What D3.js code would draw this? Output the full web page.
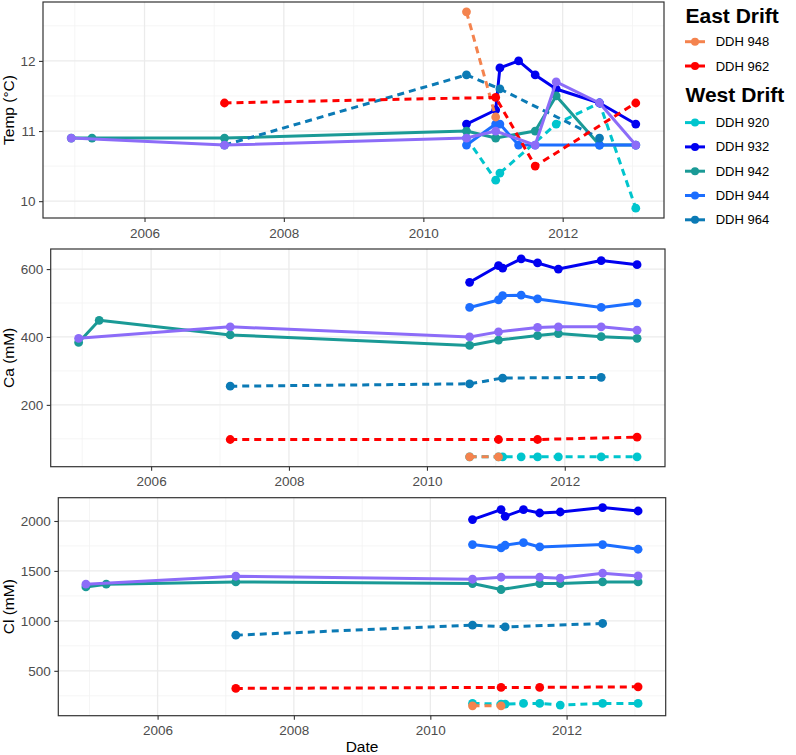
<!DOCTYPE html>
<html>
<head>
<meta charset="utf-8">
<script src="https://cdn.jsdelivr.net/npm/d3@7"></script>
<style>
  body { margin: 0; background: #fff; }
  svg { font-family: "Liberation Sans", Arial, sans-serif; }
</style>
</head>
<body>
<div id="wrapper"></div>
<script>
// sampling dates
const d0 = "2004-12-13", d1 = "2005-04-01", d2 = "2007-02-24", d3_ = "2010-08-15",
  d4 = "2011-01-15", d5 = "2011-02-06", d6 = "2011-05-15", d7 = "2011-08-10",
  d8 = "2011-11-28", d9 = "2012-07-12", d10 = "2013-01-18";

// Temperature (°C)
const temp948 = [[d3_, 12.7], [d4, 11.2]];
const temp962 = [[d2, 11.4], [d4, 11.48], [d7, 10.5], [d10, 11.4]];
const temp920 = [[d3_, 10.9], [d4, 10.3], [d5, 10.4], [d8, 11.1], [d9, 11.4], [d10, 9.9]];
const temp932 = [[d3_, 11.1], [d4, 11.3], [d5, 11.9], [d6, 12.0], [d7, 11.8], [d8, 11.6], [d9, 11.4], [d10, 11.1]];
const temp942 = [[d0, 10.9], [d1, 10.9], [d2, 10.9], [d3_, 11.0], [d4, 10.9], [d7, 11.0], [d8, 11.5], [d9, 10.8], [d10, 10.8]];
const temp944 = [[d3_, 10.8], [d4, 11.1], [d5, 11.1], [d6, 10.8], [d7, 10.8], [d9, 10.8], [d10, 10.8]];
const temp964 = [[d2, 10.8], [d3_, 11.8], [d5, 11.6], [d9, 10.9]];
const tempOther = [[d0, 10.9], [d2, 10.8], [d3_, 10.9], [d4, 11.0], [d7, 10.8], [d8, 11.7], [d9, 11.4], [d10, 10.8]];

// Ca (mM)
const ca948 = [[d3_, 47], [d4, 47]];
const ca962 = [[d2, 98], [d4, 98], [d7, 98], [d10, 105]];
const ca920 = [[d3_, 47], [d4, 47], [d5, 47], [d6, 47], [d7, 47], [d8, 47], [d9, 47], [d10, 47]];
const ca932 = [[d3_, 561], [d4, 610], [d5, 603], [d6, 630], [d7, 618], [d8, 600], [d9, 625], [d10, 613]];
const ca942 = [[d0, 384], [d1, 449], [d2, 406], [d3_, 375], [d4, 391], [d7, 404], [d8, 410], [d9, 401], [d10, 396]];
const ca944 = [[d3_, 487], [d4, 509], [d5, 522], [d6, 523], [d7, 512], [d9, 487], [d10, 500]];
const ca964 = [[d2, 255], [d3_, 262], [d5, 279], [d9, 281]];
const caOther = [[d0, 396], [d2, 430], [d3_, 400], [d4, 415], [d7, 428], [d8, 430], [d9, 430], [d10, 420]];

// Cl (mM)
const cl948 = [[d3_, 150], [d4, 150]];
const cl962 = [[d2, 324], [d4, 334], [d7, 334], [d10, 340]];
const cl920 = [[d3_, 174], [d4, 167], [d5, 167], [d6, 174], [d7, 174], [d8, 157], [d9, 174], [d10, 174]];
const cl932 = [[d3_, 2014], [d4, 2114], [d5, 2047], [d6, 2114], [d7, 2080], [d8, 2090], [d9, 2134], [d10, 2100]];
const cl942 = [[d0, 1340], [d1, 1367], [d2, 1390], [d3_, 1374], [d4, 1314], [d7, 1374], [d8, 1374], [d9, 1390], [d10, 1390]];
const cl944 = [[d3_, 1764], [d4, 1730], [d5, 1757], [d6, 1784], [d7, 1740], [d9, 1764], [d10, 1717]];
const cl964 = [[d2, 857], [d3_, 957], [d5, 940], [d9, 974]];
const clOther = [[d0, 1367], [d2, 1447], [d3_, 1417], [d4, 1437], [d7, 1437], [d8, 1427], [d9, 1477], [d10, 1450]];

// tick labels
const yearTicks = [2006, 2008, 2010, 2012];
const tempTicks = [10, 11, 12];
const caTicks = [200, 400, 600];
const clTicks = [500, 1000, 1500, 2000];

const eastWells = ["DDH 948", "DDH 962"];
const westWells = ["DDH 920", "DDH 932", "DDH 942", "DDH 944", "DDH 964"];

const styles = {
  "DDH 948": { color: "#F4834E", dashed: true },
  "DDH 962": { color: "#FF0000", dashed: true },
  "DDH 920": { color: "#00C5CD", dashed: true },
  "DDH 932": { color: "#0000F0", dashed: false },
  "DDH 942": { color: "#1A9A96", dashed: false },
  "DDH 944": { color: "#1C6EFF", dashed: false },
  "DDH 964": { color: "#0B7AB5", dashed: true },
  other: { color: "#8C6CF8", dashed: false },
};

// draw order: west drift, then east drift, unlabelled well on top
const drawOrder = ["DDH 920", "DDH 932", "DDH 942", "DDH 944", "DDH 964", "DDH 948", "DDH 962", "other"];

const parseDate = d3.timeParse("%Y-%m-%d");
const toSeries = (rows) => rows.map(([date, value]) => ({ date: parseDate(date), value }));

const panels = [
  {
    title: "Temp (°C)",
    ticks: tempTicks,
    box: { left: 43, right: 664, top: 2, bottom: 218 },
    series: {
      "DDH 948": temp948, "DDH 962": temp962, "DDH 920": temp920, "DDH 932": temp932,
      "DDH 942": temp942, "DDH 944": temp944, "DDH 964": temp964, other: tempOther,
    },
  },
  {
    title: "Ca (mM)",
    ticks: caTicks,
    box: { left: 50.7, right: 665, top: 249, bottom: 466.7 },
    series: {
      "DDH 948": ca948, "DDH 962": ca962, "DDH 920": ca920, "DDH 932": ca932,
      "DDH 942": ca942, "DDH 944": ca944, "DDH 964": ca964, other: caOther,
    },
  },
  {
    title: "Cl (mM)",
    ticks: clTicks,
    box: { left: 58.3, right: 665.7, top: 497.7, bottom: 715.7 },
    series: {
      "DDH 948": cl948, "DDH 962": cl962, "DDH 920": cl920, "DDH 932": cl932,
      "DDH 942": cl942, "DDH 944": cl944, "DDH 964": cl964, other: clOther,
    },
    xTitle: "Date",
  },
];

const width = 796;
const height = 755;

const svg = d3
  .select("#wrapper")
  .append("svg")
  .attr("width", width)
  .attr("height", height);

// ggplot style 5% expansion
const expand = ([a, b]) => {
  const pad = (b - a) * 0.05;
  return [a - pad, b + pad];
};

panels.forEach((panel) => {
  const { box } = panel;
  const all = Object.values(panel.series).flatMap(toSeries);

  const [t0, t1] = expand(d3.extent(all, (d) => +d.date));
  const xScale = d3
    .scaleTime()
    .domain([new Date(t0), new Date(t1)])
    .range([box.left, box.right]);

  const yScale = d3
    .scaleLinear()
    .domain(expand(d3.extent(all, (d) => d.value)))
    .range([box.bottom, box.top]);

  const g = svg.append("g");

  // grid
  const [y0, y1] = yScale.domain();
  const step = panel.ticks[1] - panel.ticks[0];
  const yMinor = d3
    .range(panel.ticks[0] - step / 2, panel.ticks[panel.ticks.length - 1] + step, step)
    .filter((v) => v >= y0 && v <= y1);
  const xMajor = yearTicks.map((y) => new Date(y, 0, 1));
  const xMinor = d3
    .range(yearTicks[0] - 1, yearTicks[yearTicks.length - 1] + 2, 2)
    .map((y) => new Date(y, 0, 1))
    .filter((d) => d >= xScale.domain()[0] && d <= xScale.domain()[1]);

  g.selectAll(".ygrid-minor")
    .data(yMinor)
    .join("line")
    .attr("x1", box.left)
    .attr("x2", box.right)
    .attr("y1", (d) => yScale(d))
    .attr("y2", (d) => yScale(d))
    .attr("stroke", "#F2F2F2")
    .attr("stroke-width", 0.8);

  g.selectAll(".xgrid-minor")
    .data(xMinor)
    .join("line")
    .attr("y1", box.top)
    .attr("y2", box.bottom)
    .attr("x1", (d) => xScale(d))
    .attr("x2", (d) => xScale(d))
    .attr("stroke", "#F2F2F2")
    .attr("stroke-width", 0.8);

  g.selectAll(".ygrid")
    .data(panel.ticks)
    .join("line")
    .attr("x1", box.left)
    .attr("x2", box.right)
    .attr("y1", (d) => yScale(d))
    .attr("y2", (d) => yScale(d))
    .attr("stroke", "#EBEBEB")
    .attr("stroke-width", 1.3);

  g.selectAll(".xgrid")
    .data(xMajor)
    .join("line")
    .attr("y1", box.top)
    .attr("y2", box.bottom)
    .attr("x1", (d) => xScale(d))
    .attr("x2", (d) => xScale(d))
    .attr("stroke", "#EBEBEB")
    .attr("stroke-width", 1.3);

  // series
  const line = d3
    .line()
    .x((d) => xScale(d.date))
    .y((d) => yScale(d.value));

  drawOrder.forEach((key) => {
    const rows = panel.series[key];
    if (!rows) return;
    const data = toSeries(rows);
    const style = styles[key];
    g.append("path")
      .datum(data)
      .attr("d", line)
      .attr("fill", "none")
      .attr("stroke", style.color)
      .attr("stroke-width", 3)
      .attr("stroke-linejoin", "round")
      .attr("stroke-dasharray", style.dashed ? "7,5" : null);
    g.selectAll(null)
      .data(data)
      .join("circle")
      .attr("cx", (d) => xScale(d.date))
      .attr("cy", (d) => yScale(d.value))
      .attr("r", 4.4)
      .attr("fill", style.color);
  });

  // border
  g.append("rect")
    .attr("x", box.left)
    .attr("y", box.top)
    .attr("width", box.right - box.left)
    .attr("height", box.bottom - box.top)
    .attr("fill", "none")
    .attr("stroke", "#333333")
    .attr("stroke-width", 1.2);

  // axes
  const xAxis = d3
    .axisBottom(xScale)
    .tickValues(xMajor)
    .tickFormat(d3.timeFormat("%Y"))
    .tickSize(4)
    .tickPadding(6);

  const yAxis = d3
    .axisLeft(yScale)
    .tickValues(panel.ticks)
    .tickFormat(d3.format("d"))
    .tickSize(4)
    .tickPadding(3.5);

  [
    g.append("g").attr("transform", `translate(0,${box.bottom})`).call(xAxis),
    g.append("g").attr("transform", `translate(${box.left},0)`).call(yAxis),
  ].forEach((ax) => {
    ax.select(".domain").remove();
    ax.selectAll(".tick line").attr("stroke", "#333333").attr("stroke-width", 1.1);
    ax.selectAll("text")
      .attr("fill", "#4D4D4D")
      .style("font-size", "13.5px")
      .style("font-family", "'Liberation Sans', Arial, sans-serif");
  });

  g.append("text")
    .attr("transform", `translate(14,${(box.top + box.bottom) / 2}) rotate(-90)`)
    .attr("text-anchor", "middle")
    .attr("fill", "black")
    .style("font-size", "15.5px")
    .text(panel.title);

  if (panel.xTitle) {
    g.append("text")
      .attr("x", (box.left + box.right) / 2)
      .attr("y", 752)
      .attr("text-anchor", "middle")
      .attr("fill", "black")
      .style("font-size", "15.5px")
      .text(panel.xTitle);
  }
});

// legend
const legend = svg.append("g");
const keyX = 685;

const legendGroup = (title, titleY, wells, firstY) => {
  legend
    .append("text")
    .attr("x", keyX + 0.5)
    .attr("y", titleY)
    .style("font-size", "21px")
    .style("font-weight", "bold")
    .attr("fill", "black")
    .text(title);
  wells.forEach((w, i) => {
    const y = firstY + i * 24.3;
    legend
      .append("line")
      .attr("x1", keyX)
      .attr("x2", keyX + 20)
      .attr("y1", y)
      .attr("y2", y)
      .attr("stroke", styles[w].color)
      .attr("stroke-width", 3);
    legend
      .append("circle")
      .attr("cx", keyX + 10)
      .attr("cy", y)
      .attr("r", 4)
      .attr("fill", styles[w].color);
    legend
      .append("text")
      .attr("x", 715.7)
      .attr("y", y)
      .attr("dy", "0.35em")
      .style("font-size", "13px")
      .attr("fill", "black")
      .text(w);
  });
};

legendGroup("East Drift", 22.5, eastWells, 41.7);
legendGroup("West Drift", 101.8, westWells, 122.6);
</script>
</body>
</html>
